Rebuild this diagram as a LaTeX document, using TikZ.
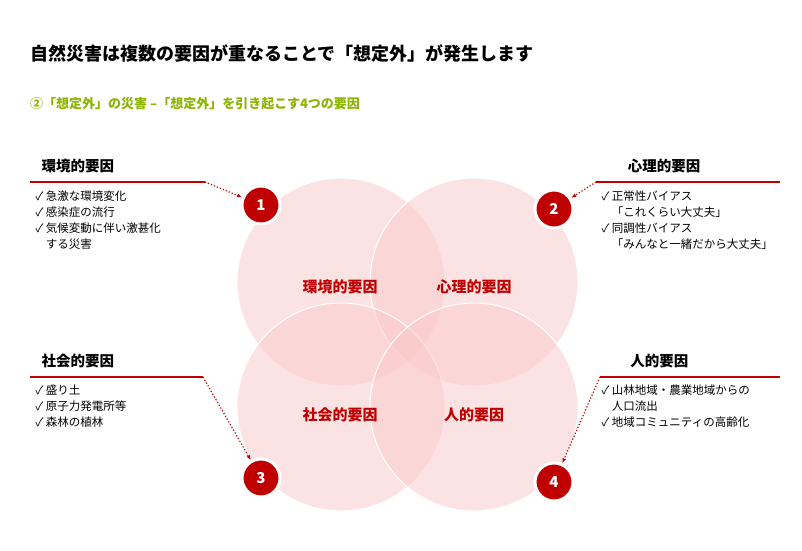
\documentclass[tikz,border=0pt]{standalone}
\usepackage{fontspec}
\setmainfont{Noto Sans CJK JP}
\usetikzlibrary{arrows.meta}
\definecolor{dred}{RGB}{192,0,0}
\definecolor{pinkf}{RGB}{250,200,200}
\definecolor{grn}{RGB}{140,180,0}
\begin{document}
\begin{tikzpicture}[x=1pt,y=-1pt,
  venn/.style={circle,minimum size=208pt,fill=pinkf,fill opacity=0.5,draw=white,line width=1pt},
  badge/.style={circle,minimum size=38pt,fill=dred,draw=white,line width=3pt,text=white,font=\bfseries\fontsize{15}{15}\selectfont},
  head/.style={anchor=west,font=\bfseries\fontsize{14.5}{16}\selectfont},
  lst/.style={anchor=north west,align=left,font=\fontsize{11.5}{16}\selectfont},
  vlab/.style={text=dred,font=\bfseries\fontsize{15}{17}\selectfont},
  uline/.style={dred,line width=1.2pt},
  dots/.style={dred,line width=1.2pt,dotted,-{Latex[length=5pt,width=4pt]}}]
\useasboundingbox (0,0) rectangle (802,550);
\node[anchor=west,inner sep=0pt,font=\bfseries\fontsize{18}{20}\selectfont] (title) at (30,54) {自然災害は複数の要因が重なることで「想定外」が発生します};
\node[anchor=west,inner sep=0pt,text=grn,font=\bfseries\fontsize{13}{15}\selectfont] (sub) at (30,104) {②「想定外」の災害 –「想定外」を引き起こす4つの要因};
\node[venn] (c1) at (341,282) {};
\node[venn] (c2) at (474,282) {};
\node[venn] (c3) at (341,407) {};
\node[venn] (c4) at (474,407) {};
\node[vlab] (l1) at (340,287) {環境的要因};
\node[vlab] (l2) at (474,287) {心理的要因};
\node[vlab] (l3) at (340,415) {社会的要因};
\node[vlab] (l4) at (474,415) {人的要因};
\node[badge] (b1) at (261,205) {1};
\node[badge] (b2) at (554,209) {2};
\node[badge] (b3) at (261,478) {3};
\node[badge] (b4) at (554,482) {4};
\node[head] (h1) at (38,166) {環境的要因};
\node[head,anchor=east] (h2) at (704,166) {心理的要因};
\node[head] (h3) at (38,361) {社会的要因};
\node[head,anchor=east] (h4) at (692,361) {人的要因};
\coordinate (u1a) at (30,182); \coordinate (u1b) at (205,182);
\coordinate (u2a) at (780,182); \coordinate (u2b) at (596,182);
\coordinate (u3a) at (30,377); \coordinate (u3b) at (203,377);
\coordinate (u4a) at (780,377); \coordinate (u4b) at (600,377);
\draw[uline] (u1a) -- (u1b); \draw[dots] (u1b) -- (b1);
\draw[uline] (u2a) -- (u2b); \draw[dots] (u2b) -- (b2);
\draw[uline] (u3a) -- (u3b); \draw[dots] (u3b) -- (b3);
\draw[uline] (u4a) -- (u4b); \draw[dots] (u4b) -- (b4);
\node[lst] (t1) at (32,187) {✓ 急激な環境変化\\✓ 感染症の流行\\✓ 気候変動に伴い激甚化\\\phantom{✓ }する災害};
\node[lst] (t2) at (598,187) {✓ 正常性バイアス\\\phantom{✓ }「これくらい大丈夫」\\✓ 同調性バイアス\\\phantom{✓ }「みんなと一緒だから大丈夫」};
\node[lst] (t3) at (32,381) {✓ 盛り土\\✓ 原子力発電所等\\✓ 森林の植林};
\node[lst] (t4) at (598,381) {✓ 山林地域・農業地域からの\\\phantom{✓ }人口流出\\✓ 地域コミュニティの高齢化};
\end{tikzpicture}
\end{document}
